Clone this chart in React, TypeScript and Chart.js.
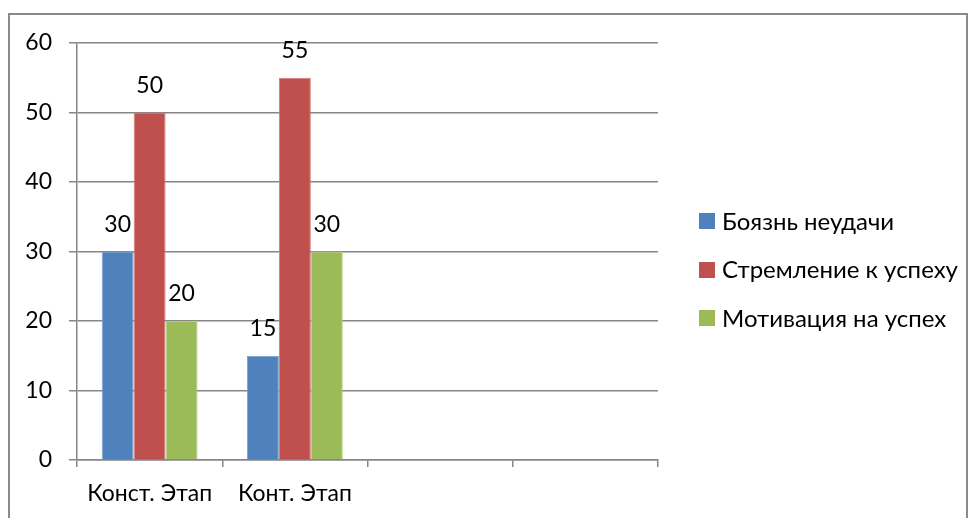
import React, { useEffect, useRef } from "react";
import { Chart, registerables } from "chart.js";

Chart.register(...registerables);

const categories = ["Конст. Этап", "Конт. Этап", "", ""];
const seriesNames = ["Боязнь неудачи", "Стремление к успеху", "Мотивация на успех"];
const fearValues = [30, 15, null, null];
const strivingValues = [50, 55, null, null];
const motivationValues = [20, 30, null, null];
const yTicks = [0, 10, 20, 30, 40, 50, 60];

const colors = ["#4F81BD", "#C0504D", "#9BBB59"];
const borders = ["#7DA0CF", "#D27B79", "#B5CE85"];
const FONT = "Lato";
const FSIZE = 23;
const LEGEND_FSIZE = 24;

const labelsPlugin = {
  id: "valueLabels",
  afterDatasetsDraw(chart: any) {
    const ctx = chart.ctx;
    ctx.save();
    ctx.font = `${FSIZE}px ${FONT}`;
    ctx.fillStyle = "#000";
    ctx.textAlign = "center";
    ctx.textBaseline = "alphabetic";
    chart.data.datasets.forEach((ds: any, i: number) => {
      const meta = chart.getDatasetMeta(i);
      meta.data.forEach((bar: any, j: number) => {
        const v = ds.data[j];
        if (v === null || v === undefined) return;
        ctx.fillText(String(v), bar.x, bar.y - 20);
      });
    });
    ctx.restore();
  },
};

const legendPlugin = {
  id: "customLegend",
  afterDraw(chart: any) {
    const ctx = chart.ctx;
    const area = chart.chartArea;
    ctx.save();
    ctx.font = `${LEGEND_FSIZE}px ${FONT}`;
    ctx.textBaseline = "middle";
    ctx.textAlign = "left";
    const x = area.right + 41;
    const startY = 221;
    chart.data.datasets.forEach((ds: any, i: number) => {
      const y = startY + i * 48.5;
      ctx.fillStyle = ds.backgroundColor;
      ctx.fillRect(x, Math.round(y - 8), 16, 16);
      ctx.fillStyle = "#000";
      ctx.fillText(ds.label, x + 23, y + 1);
    });
    ctx.restore();
  },
};

export default function App() {
  const ref = useRef<HTMLCanvasElement>(null);
  useEffect(() => {
    if (!ref.current) return;
    const data = [fearValues, strivingValues, motivationValues];
    const chart = new Chart(ref.current, {
      type: "bar",
      data: {
        labels: categories,
        datasets: seriesNames.map((name, i) => ({
          label: name,
          data: data[i],
          backgroundColor: colors[i],
          borderColor: borders[i],
          borderWidth: 1,
          barPercentage: 1,
          categoryPercentage: 0.66,
        })),
      },
      options: {
        responsive: false,
        animation: false,
        devicePixelRatio: 1,
        layout: { padding: { left: 0, top: 43, right: 311, bottom: 0 } },
        plugins: {
          legend: { display: false },
          tooltip: { enabled: false },
        },
        scales: {
          x: {
            offset: true,
            afterFit: (s: any) => { s.height = 58; },
            grid: {
              offset: true,
              drawOnChartArea: false,
              drawTicks: true,
              tickLength: 7,
              color: "#868686",
              lineWidth: 1.5,
            },
            border: { color: "#868686", width: 1.5 },
            ticks: {
              color: "#000",
              font: { family: FONT, size: FSIZE },
              padding: 13,
              maxRotation: 0,
              autoSkip: false,
            },
          },
          y: {
            min: 0,
            max: 60,
            afterFit: (s: any) => { s.width = 77; },
            afterBuildTicks: (s: any) => { s.ticks = yTicks.map((v) => ({ value: v })); },
            grid: {
              color: "#868686",
              lineWidth: 1.5,
              tickLength: 8,
            },
            border: { color: "#868686", width: 1.5 },
            ticks: {
              color: "#000",
              font: { family: FONT, size: FSIZE },
              padding: 17,
            },
          },
        },
      },
      plugins: [labelsPlugin, legendPlugin],
    });
    return () => chart.destroy();
  }, []);

  return (
    <div style={{ position: "absolute", left: 0, top: 0, width: 969, height: 518, overflow: "hidden", background: "#fff" }}>
      <div
        style={{
          position: "absolute",
          left: 8,
          top: 13,
          width: 956,
          height: 520,
          borderLeft: "2px solid #8a8a8a",
          borderTop: "2px solid #8a8a8a",
          borderRight: "2px solid #8a8a8a",
        }}
      />
      <canvas ref={ref} width={969} height={518} style={{ position: "absolute", left: 0, top: 0 }} />
    </div>
  );
}
